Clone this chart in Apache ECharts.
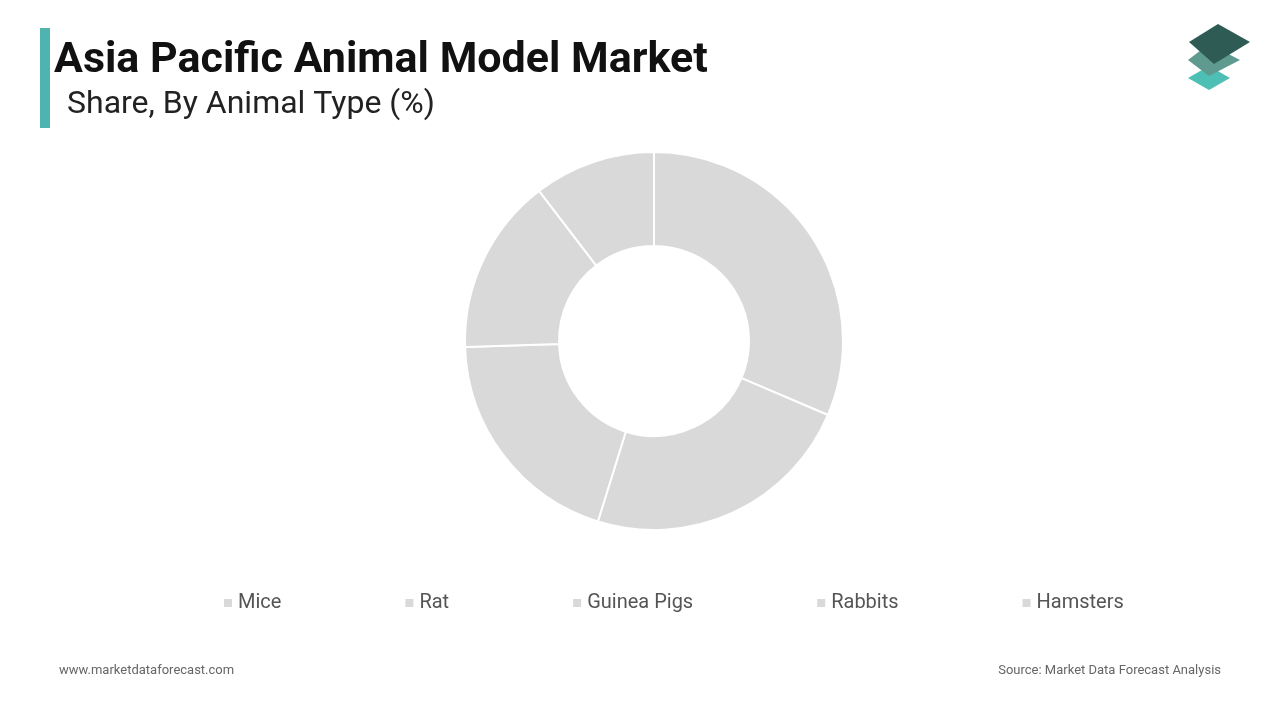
<!DOCTYPE html>
<html>
<head>
<meta charset="utf-8">
<script src="https://cdn.jsdelivr.net/npm/echarts@6/dist/echarts.min.js"></script>
<style>
  html, body { margin: 0; padding: 0; background: #fff; }
  #chart { width: 1280px; height: 720px; }
</style>
</head>
<body>
<div id="chart"></div>
<script>
// --- data ---
const categories = ['Mice', 'Rat', 'Guinea Pigs', 'Rabbits', 'Hamsters'];
const shares = [31.4, 23.4, 19.7, 15.1, 10.4];

const chart = echarts.init(document.getElementById('chart'));

chart.setOption({
    animation: false,
    color: ['#d9d9d9'],
    title: [
        { text: 'Asia Pacific Animal Model Market', left: 54, top: 40, padding: 0,
          textStyle: { fontFamily: 'Roboto', fontSize: 43, fontWeight: 'bold', color: '#111' } },
        { text: 'Share, By Animal Type (%)', left: 67, top: 89, padding: 0,
          textStyle: { fontFamily: 'Roboto', fontSize: 32, fontWeight: 'normal', color: '#222' } },
        { text: 'www.marketdataforecast.com', left: 59, top: 664, padding: 0,
          textStyle: { fontFamily: 'Roboto', fontSize: 13, fontWeight: 'normal', color: '#666' } },
        { text: 'Source: Market Data Forecast Analysis', right: 59, top: 664, padding: 0,
          textStyle: { fontFamily: 'Roboto', fontSize: 13, fontWeight: 'normal', color: '#666' } }
    ],
    legend: {
        data: categories,
        top: 588,
        left: 217,
        itemGap: 122,
        itemWidth: 10,
        itemHeight: 10,
        icon: 'rect',
        textStyle: { fontFamily: 'Roboto', fontSize: 20, color: '#555' }
    },
    graphic: [
        { type: 'rect', shape: { x: 40, y: 28, width: 10, height: 100 }, style: { fill: '#4fb3b0' } },
        { type: 'polygon', shape: { points: [[1209, 90], [1230, 78], [1209, 66], [1188, 78]] }, style: { fill: '#4dbfb4' } },
        { type: 'polygon', shape: { points: [[1209, 76], [1240, 60], [1209, 44], [1188, 60]] }, style: { fill: '#5f9a90' } },
        { type: 'polygon', shape: { points: [[1214, 64], [1250, 42], [1218, 24], [1189, 42]] }, style: { fill: '#2e5c55' } }
    ],
    series: [{
        type: 'pie',
        center: [654, 341],
        radius: [95, 189],
        startAngle: 90,
        clockwise: true,
        label: { show: false },
        labelLine: { show: false },
        itemStyle: { borderColor: '#fff', borderWidth: 2 },
        data: categories.map((c, i) => ({ name: c, value: shares[i] }))
    }]
});
</script>
</body>
</html>
